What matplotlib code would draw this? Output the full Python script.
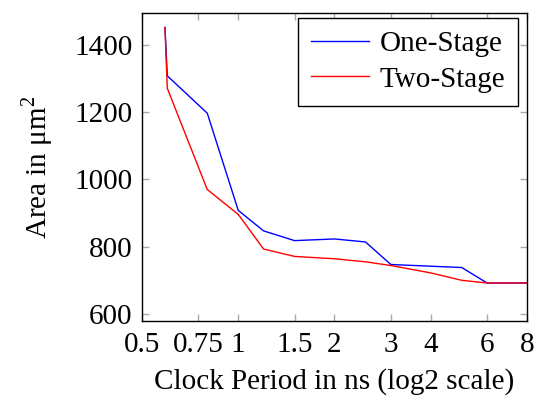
import matplotlib
matplotlib.use('Agg')
import matplotlib.pyplot as plt
from matplotlib.ticker import FixedLocator, FixedFormatter, NullLocator

# data
period_one = [0.59, 0.6, 0.8, 1.0, 1.2, 1.5, 2.0, 2.5, 3.0, 5.0, 6.0, 8.0]
area_one = [1452, 1308, 1197, 908, 847, 818, 823, 814, 747, 738, 692, 692]

period_two = [0.59, 0.6, 0.8, 1.0, 1.2, 1.5, 2.0, 2.5, 3.0, 4.0, 5.0, 6.0, 8.0]
area_two = [1452, 1271, 970, 896, 793, 771, 764, 755, 744, 722, 700, 692, 692]

xticks = [0.5, 0.75, 1, 1.5, 2, 3, 4, 6, 8]
xtick_labels = ['0.5', '0.75', '1', '1.5', '2', '3', '4', '6', '8']
yticks = [600, 800, 1000, 1200, 1400]

fs = 21
plt.rcParams['font.family'] = ['Liberation Serif', 'DejaVu Serif']
plt.rcParams['mathtext.fontset'] = 'custom'
plt.rcParams['mathtext.rm'] = 'Liberation Serif'
plt.rcParams['font.size'] = fs

fig = plt.figure(figsize=(5.37, 3.99), dpi=100)
ax = fig.add_axes([0.2644, 0.1955, 0.717, 0.772])

ax.plot(period_one, area_one, color='blue', lw=1.0, label='One-Stage')
ax.plot(period_two, area_two, color='red', lw=1.0, label='Two-Stage')

ax.set_xscale('log', base=2)
ax.set_xlim(0.5, 8)
ax.set_ylim(579, 1495)
ax.xaxis.set_major_locator(FixedLocator(xticks))
ax.xaxis.set_major_formatter(FixedFormatter(xtick_labels))
ax.xaxis.set_minor_locator(NullLocator())
ax.set_yticks(yticks)

ax.tick_params(direction='in', length=5, width=1, color='#aaaaaa',
               top=True, right=True, labelsize=fs)
ax.tick_params(axis='x', pad=8)
ax.tick_params(axis='y', pad=7)
for s in ax.spines.values():
    s.set_linewidth(1.0)

ax.set_xlabel('Clock Period in ns (log2 scale)', fontsize=fs, labelpad=7)
ax.set_ylabel(r'Area in $\mathrm{\mu m}^2$', fontsize=fs, labelpad=14)

leg = ax.legend(loc='upper right', bbox_to_anchor=(0.977, 0.984), fontsize=fs,
                fancybox=False, edgecolor='black', framealpha=1,
                handlelength=2.0, handletextpad=0.35, borderpad=0.45,
                labelspacing=0.3, borderaxespad=0)
leg.get_frame().set_linewidth(1.0)

fig.savefig('out.png', dpi=100)
